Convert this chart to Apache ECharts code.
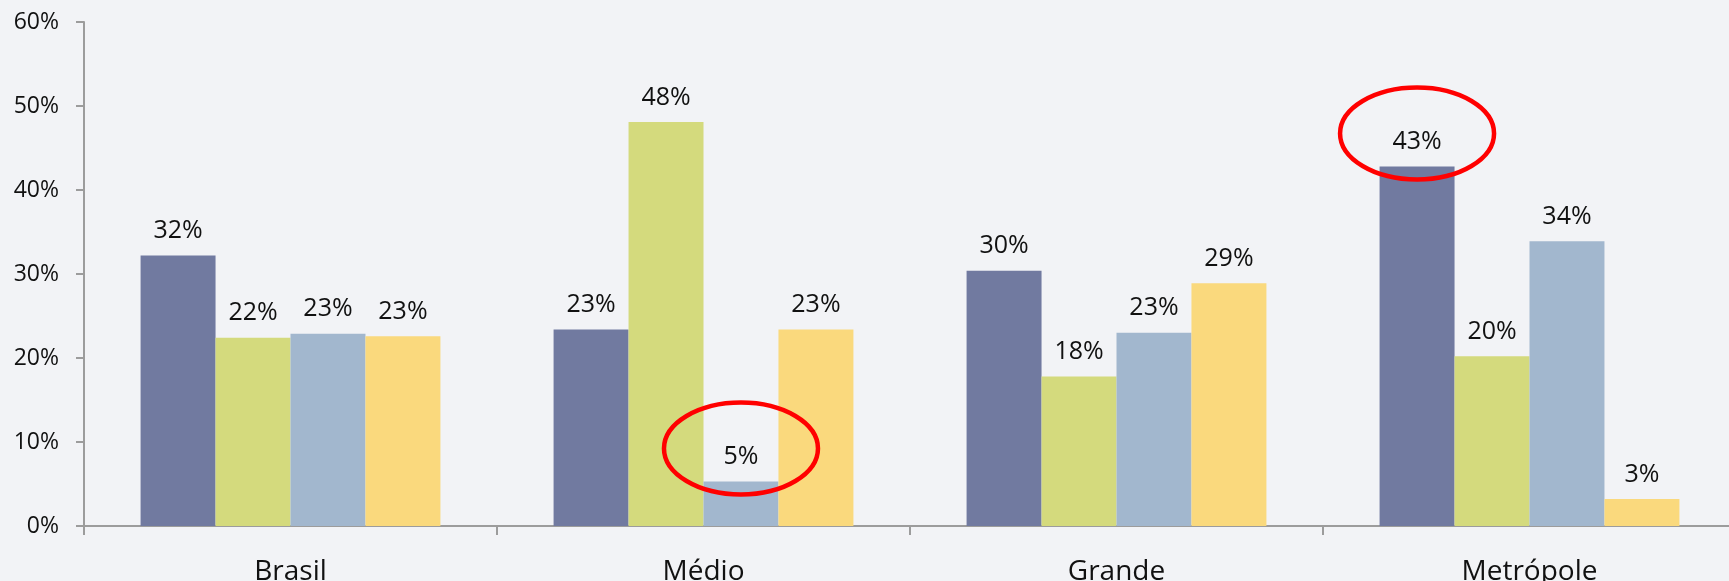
<!DOCTYPE html>
<html>
<head>
<meta charset="utf-8">
<script src="https://cdn.jsdelivr.net/npm/echarts@6/dist/echarts.min.js"></script>
<style>
  html, body { margin: 0; padding: 0; background: #F2F3F6; overflow: hidden; }
  #chart { width: 1729px; height: 581px; }
</style>
</head>
<body>
<div id="chart"></div>
<script>
// Categories along the x axis
const categories = ['Brasil', 'Médio', 'Grande', 'Metrópole'];

// Shares (%) for each of the four groups, one value per category
const serie1 = [32.2, 23.4, 30.4, 42.8];
const serie2 = [22.4, 48.1, 17.8, 20.2];
const serie3 = [22.9, 5.3, 23.0, 33.9];
const serie4 = [22.6, 23.4, 28.9, 3.2];

// Y axis range and tick step (%)
const yMin = 0;
const yMax = 60;
const yStep = 10;

// Bars circled in red: [series index, category index]
const circled = [[2, 1], [0, 3]];

const colors = ['#717AA0', '#D4DA7D', '#A2B7CE', '#FAD97D'];
const allSeries = [serie1, serie2, serie3, serie4];
const FONT = '"Open Sans", "Liberation Sans", sans-serif';

const chart = echarts.init(document.getElementById('chart'), null, { renderer: 'canvas' });

const option = {
  backgroundColor: '#F2F3F6',
  animation: false,
  // the category axis runs a little past the right edge of the canvas
  grid: { left: 84, top: 22, width: 1652, height: 504, outerBoundsMode: 'none', containLabel: false },
  xAxis: {
    type: 'category',
    data: categories,
    axisLine: { lineStyle: { color: '#9C9C9C', width: 2 } },
    axisTick: { show: true, length: 9, lineStyle: { color: '#9C9C9C', width: 2 } },
    axisLabel: { color: '#111', fontFamily: FONT, fontSize: 28, margin: 32 }
  },
  yAxis: {
    type: 'value',
    min: yMin,
    max: yMax,
    interval: yStep,
    axisLine: { show: true, lineStyle: { color: '#9C9C9C', width: 2 } },
    axisTick: { show: true, length: 8, lineStyle: { color: '#9C9C9C', width: 2 } },
    splitLine: { show: false },
    axisLabel: { color: '#111', fontFamily: FONT, fontSize: 23, margin: 25,
                 formatter: v => v + '%' }
  },
  series: allSeries.map((vals, i) => ({
    type: 'bar',
    name: 'S' + (i + 1),
    data: vals,
    barGap: '0%',
    barCategoryGap: '27.4%',
    itemStyle: { color: colors[i] },
    label: {
      show: true,
      position: 'top',
      distance: 12,
      color: '#111',
      fontFamily: FONT,
      fontSize: 25,
      formatter: p => Math.round(p.value) + '%'
    }
  }))
};

chart.setOption(option);

// Red ellipses around selected bar labels, placed from the bar layouts
const ellipses = circled.map(([s, c]) => {
  const layout = chart.getModel().getSeriesByIndex(s).getData().getItemLayout(c);
  const cx = layout.x + layout.width / 2;
  const topY = layout.y + Math.min(0, layout.height);
  return {
    type: 'ellipse',
    shape: { cx: cx, cy: topY - 33, rx: 77, ry: 46 },
    style: { fill: 'none', stroke: '#FF0000', lineWidth: 4.5 },
    z: 100
  };
});
chart.setOption({ graphic: { elements: ellipses } });
</script>
</body>
</html>
